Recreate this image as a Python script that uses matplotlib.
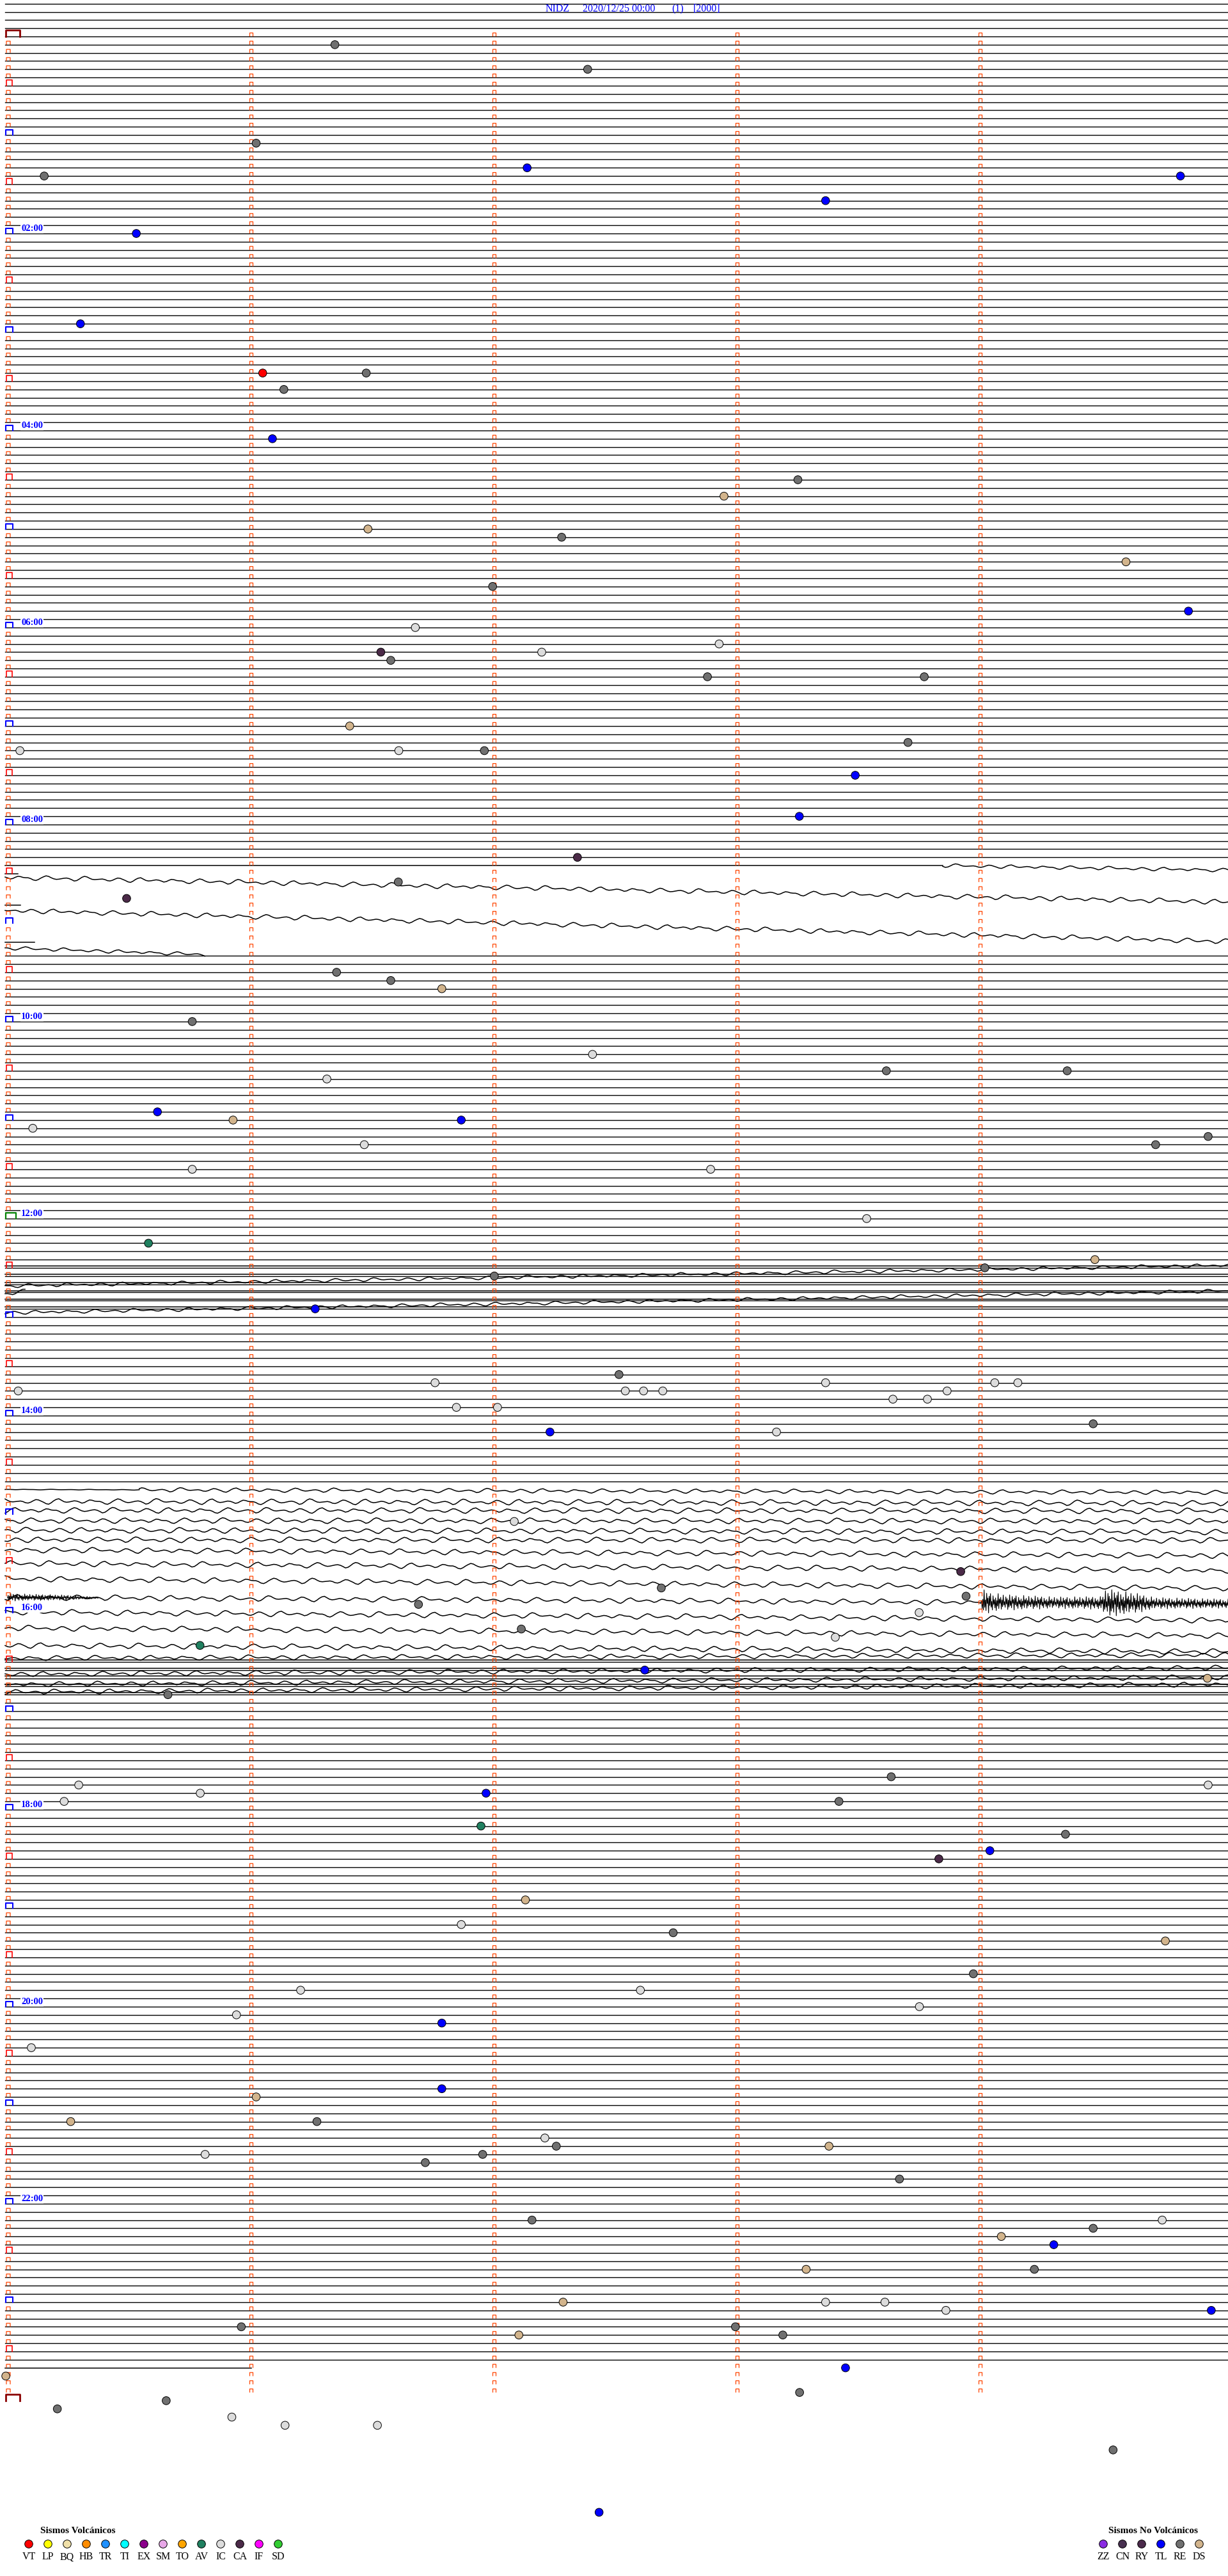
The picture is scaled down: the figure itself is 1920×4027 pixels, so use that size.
import matplotlib
matplotlib.use('Agg')
import matplotlib.pyplot as plt
import numpy as np

plt.rcParams['font.family'] = ['Liberation Serif', 'DejaVu Serif']

# drum geometry, in pixels of the 1920 x 4027 sheet
W, H = 1920, 4027
X_LEFT, PX_MIN = 12.5, 380.0     # minute 0 of every row, pixels per minute
Y_TOP, PX_LINE = 57, 12.833      # y of the 00:00 line, pixels per 5-minute line
N_LINES = 288                    # 24 h of 5-minute lines


def px_to_min(p):
    return (p - X_LEFT) / PX_MIN


def px_to_line(p):
    return (p - Y_TOP) / PX_LINE


START, END = px_to_min(8), px_to_min(1920)   # drawn extent of a row

# ---------------- header / labels ----------------
title_parts = ['NIDZ', '2020/12/25 00:00', '(1)', '[2000]']
hour_labels = ['02:00', '04:00', '06:00', '08:00', '10:00', '12:00',
               '14:00', '16:00', '18:00', '20:00', '22:00']
hour_values = [2, 4, 6, 8, 10, 12, 14, 16, 18, 20, 22]

# ---------------- legend ----------------
volc_codes = ['VT', 'LP', 'BQ', 'HB', 'TR', 'TI', 'EX', 'SM', 'TO', 'AV', 'IC', 'CA', 'IF', 'SD']
volc_colors = ['#FF0000', '#FFFF00', '#F0E0A8', '#FF8C00', '#1E90FF', '#00FFFF', '#8B008B',
               '#E8A8E8', '#FFA500', '#208060', '#DCDCDC', '#4B2A48', '#FF00FF', '#32CD32']
novolc_codes = ['ZZ', 'CN', 'RY', 'TL', 'RE', 'DS']
novolc_colors = ['#8A2BE2', '#483050', '#4B2A4B', '#0000FF', '#707070', '#D2B48C']

# ---------------- events: row index (5-min line), minute in row, class ----------------
ev_line = [1, 4, 17, 13, 16, 17, 20, 24, 35, 41,
           41, 43, 49, 54, 56, 60, 61, 64, 67, 70,
           72, 74, 75, 75, 76, 78, 78, 84, 86, 87,
           87, 87, 90, 95, 100, 103, 105, 114, 115, 116,
           120, 124, 126, 126, 127, 131, 132, 132, 133, 135,
           135, 134, 138, 138, 144, 147, 149, 150, 151, 155,
           163, 164, 165, 165, 165, 164, 166, 166, 165, 164,
           164, 165, 167, 167, 170, 170, 169, 180.9, 191, 194,
           196, 202, 187, 189, 190, 192, 195, 199, 200, 213,
           212, 213, 214, 214, 215, 215, 218, 219, 221, 222,
           227, 230, 231, 232, 236, 238, 238, 240, 241, 242,
           245, 250, 251, 254, 254, 256, 257, 257, 258, 258,
           259, 261, 266, 266, 267, 268, 269, 272, 272, 276,
           276, 276, 277, 277, 279, 280, 279, 280, 284, 285,
           287, 288, 289, 290, 291, 291, 294, 301.6]
ev_min = [1.345, 2.385, 0.149, 1.021, 2.136, 4.824, 3.364, 0.528, 0.298, 1.048,
          1.474, 1.135, 1.088, 3.250, 2.946, 1.481, 2.278, 4.600, 1.994, 4.857,
          1.676, 2.926, 2.196, 1.534, 1.575, 2.878, 3.770, 1.406, 3.703, 0.049,
          1.608, 1.960, 3.486, 3.256, 2.343, 1.606, 0.488, 1.352, 1.575, 1.785,
          0.758, 2.405, 3.614, 4.358, 1.312, 0.615, 0.926, 1.865, 0.102, 1.466,
          4.722, 4.938, 0.758, 2.891, 3.533, 0.578, 4.472, 4.019, 2.001, 1.264,
          2.514, 1.757, 2.540, 2.615, 2.694, 3.364, 3.641, 3.783, 3.864, 4.060,
          4.155, 0.042, 1.845, 2.014, 3.162, 2.230, 4.465, 2.083, 1.689, 2.112,
          0.790, 0.658, 3.920, 2.688, 3.942, 3.749, 3.404, 2.620, 4.935, 0.291,
          3.634, 4.938, 0.791, 1.967, 0.231, 3.419, 1.946, 4.351, 4.040, 3.830,
          2.129, 1.865, 2.737, 4.762, 3.972, 1.204, 2.602, 3.750, 0.940, 1.785,
          0.096, 1.785, 1.021, 0.258, 1.271, 2.209, 2.256, 3.378, 0.811, 1.953,
          1.717, 3.668, 2.156, 4.749, 4.465, 4.087, 4.303, 3.284, 4.223, 2.284,
          3.364, 3.608, 3.859, 4.951, 0.960, 2.102, 2.993, 3.188, 3.446, -0.009,
          3.257, 0.651, 0.203, 0.921, 1.140, 1.520, 4.547, 2.432]
ev_type = ['RE', 'RE', 'RE', 'RE', 'TL', 'TL', 'TL', 'TL', 'TL', 'VT',
           'RE', 'RE', 'TL', 'RE', 'DS', 'DS', 'RE', 'DS', 'RE', 'TL',
           'IC', 'IC', 'IC', 'CA', 'RE', 'RE', 'RE', 'DS', 'RE', 'IC',
           'IC', 'RE', 'TL', 'TL', 'CA', 'RE', 'CA', 'RE', 'RE', 'DS',
           'RE', 'IC', 'RE', 'RE', 'IC', 'TL', 'DS', 'TL', 'IC', 'IC',
           'RE', 'RE', 'IC', 'IC', 'IC', 'AV', 'DS', 'RE', 'RE', 'TL',
           'RE', 'IC', 'IC', 'IC', 'IC', 'IC', 'IC', 'IC', 'IC', 'IC',
           'IC', 'IC', 'IC', 'IC', 'IC', 'TL', 'RE', 'IC', 'RE', 'RE',
           'AV', 'RE', 'CA', 'RE', 'RE', 'IC', 'IC', 'TL', 'DS', 'IC',
           'RE', 'IC', 'IC', 'TL', 'IC', 'RE', 'AV', 'RE', 'TL', 'CA',
           'DS', 'IC', 'RE', 'DS', 'RE', 'IC', 'IC', 'IC', 'IC', 'TL',
           'IC', 'TL', 'DS', 'DS', 'RE', 'IC', 'RE', 'DS', 'IC', 'RE',
           'RE', 'RE', 'RE', 'IC', 'RE', 'DS', 'TL', 'DS', 'RE', 'DS',
           'IC', 'IC', 'IC', 'TL', 'RE', 'DS', 'RE', 'RE', 'TL', 'DS',
           'RE', 'RE', 'RE', 'IC', 'IC', 'IC', 'RE', 'TL']

# ---------------- traces ----------------
# rows with no flat baseline (drawn as drifting / wavy traces instead)
missing_lines = list(range(101, 112)) + list(range(177, 198)) + [284]

# drifting / wavy traces: minute start, minute end, row position at start/end, wiggle amplitude (px)
S, E = START, END
wave_x0 = [S, 3.846, S, S, S, S, S, S,
           S, S, S, S, S, S, S, S, S,
           S, 0.54, S, S, S, S, S, S, S, S, S, S, S, S, S,
           S, S, S, S, S, S, S, S,
           S]
wave_x1 = [3.846, E, 0.04, E, 0.05, E, 0.11, 0.81,
           E, E, E, E, E, E, E, 0.07, E,
           0.54, E, E, E, E, E, E, E, E, E, 4.003, E, E, E, E,
           E, E, E, E, E, E, E, E,
           1.0]
wave_y0 = [101.00, 101.00, 102.00, 102.43, 105.82, 106.44, 110.32, 111.02,
           149.79, 150.79, 151.79, 152.79, 153.79, 154.79, 152.19, 153.20, 155.46,
           177.00, 177.04, 178.44, 179.53, 180.78, 181.95, 183.12, 184.36, 186.00,
           187.87, 190.13, 191.92, 193.87, 195.98, 197.54,
           197.75, 198.75, 199.75, 200.75, 201.75, 199.49, 200.73, 201.67,
           284.00]
wave_y1 = [101.00, 101.55, 102.00, 105.43, 105.82, 110.24, 110.32, 111.82,
           149.79, 150.79, 151.79, 152.79, 153.79, 154.79, 149.69, 152.80, 152.81,
           177.04, 177.35, 178.67, 179.61, 180.86, 182.18, 183.20, 185.06, 186.86,
           189.04, 190.75, 192.94, 194.80, 196.76, 197.15,
           197.75, 198.75, 199.75, 200.75, 201.75, 198.71, 199.87, 200.73,
           284.00]
wave_amp = [0, 3, 0, 4, 0, 4, 0, 3,
            0, 0, 0, 0, 0, 0, 3, 3, 3,
            0.5, 3.5, 4.5, 4.5, 4.5, 4.5, 4.5, 4.5, 4.5, 4.5, 4.5, 4.5, 4.5, 4.5, 4,
            0, 0, 0, 0, 0, 4, 4, 4,
            0]

# microseism wiggle shape (one sample every 4 px)
WAVE = [0, .3, .8, 1, .6, 0, -.5, -.9, -.7, -.2, .2, .4, .3, .1, -.1, -.2, 0, .4, .9, .7,
        .1, -.6, -1, -.8, -.3, .1, .2, .1, 0, -.1, .1, .5, .6, .3, -.2, -.6, -.5, -.1, .3, .8,
        1, .5, -.2, -.7, -.9, -.4, .1, .3, .2, 0, -.2, -.1, .2, .6, .4, -.1, -.5, -.4, -.1, 0]
# high-frequency tremor shape (one sample per px)
NOISE = [.2, -.5, .9, -.3, .6, -1, .4, -.2, .7, -.8, .1, -.4, 1, -.6, .3, -.9, .5, -.1, .8, -.7,
         .2, -.3, .6, -.5, .9, -.2, .4, -1, .7, -.4, .1, -.6, .8, -.3, .5, -.9, .3, -.1, .6, -.7]

# tremor bursts: row position, envelope knots (minute, half-amplitude px)
burst_y = [(190.75, 190.91), (190.13, 190.20)]
burst_env_min = [[4.003, 4.013, 4.044, 4.114, 4.315, 4.496, 4.517, 4.637, 4.718, 5.02],
                 [-0.002, 0.089, 0.24, 0.37]]
burst_env_amp = [[1, 20, 15, 12, 9, 10, 22, 16, 9, 7],
                 [6, 5, 4, 1]]

# ---------------- figure ----------------
fig = plt.figure(figsize=(W / 100, H / 100), dpi=100)
ax = fig.add_axes([0, 0, 1, 1])
ax.set_xlim(px_to_min(0), px_to_min(W))
ax.set_ylim(px_to_line(H), px_to_line(0))
ax.axis('off')

# flat baselines
bx, by = [], []
for i in range(-4, 285):
    if i in missing_lines:
        continue
    bx += [START, END, np.nan]
    by += [i, i, np.nan]
ax.plot(bx, by, color='black', lw=1.0, zorder=2)

# wavy traces
for r in range(len(wave_x0)):
    n = int((wave_x1[r] - wave_x0[r]) * PX_MIN / 4) + 2
    t = np.linspace(0, 1, n)
    x = wave_x0[r] + (wave_x1[r] - wave_x0[r]) * t
    base = wave_y0[r] + (wave_y1[r] - wave_y0[r]) * t
    idx = (np.arange(n) + 17 * r) % len(WAVE)
    y = base + wave_amp[r] / PX_LINE * np.array(WAVE)[idx]
    ax.plot(x, y, color='black', lw=1.1, zorder=2)

for b in range(len(burst_y)):
    m0, m1 = burst_env_min[b][0], burst_env_min[b][-1]
    n = int((m1 - m0) * PX_MIN) + 2
    x = np.linspace(m0, m1, n)
    base = np.linspace(burst_y[b][0], burst_y[b][1], n)
    env = np.interp(x, burst_env_min[b], burst_env_amp[b])
    y = base + env / PX_LINE * np.array(NOISE)[np.arange(n) % len(NOISE)]
    ax.plot(x, y, color='black', lw=0.8, zorder=2)


# minute marks: open boxes sitting on each row
def add_box(store, left_px, width_px, line, height_px, lift_px):
    x0 = px_to_min(left_px)
    x1 = px_to_min(left_px + width_px)
    yb = line - lift_px / PX_LINE
    yt = line - (lift_px + height_px) / PX_LINE
    store[0].extend([x0, x0, x1, x1, np.nan])
    store[1].extend([yb, yt, yt, yb, np.nan])


small, blue, red, green, dred = ([], []), ([], []), ([], []), ([], []), ([], [])
for i in range(N_LINES):
    for k in range(1, 5):
        add_box(small, X_LEFT + k * PX_MIN - 2, 5, i, 5, 0.5)
    if i == 0:
        add_box(dred, 9, 22, i, 10, 0)
    elif i == 144:
        add_box(green, 9, 16, i, 9, 0)
    elif i % 12 == 0:
        add_box(blue, 9, 11, i, 8, 0)
    elif i % 6 == 0:
        add_box(red, 10, 9, i, 9, 0)
    else:
        add_box(small, 10, 6, i, 5, 0.5)
add_box(dred, 9, 22, N_LINES, 10, 0)

ax.plot(*small, color='#FF4500', lw=0.9, zorder=3)
ax.plot(*red, color='#FF0000', lw=1.2, zorder=3)
ax.plot(*blue, color='#0000FF', lw=1.5, zorder=3)
ax.plot(*green, color='#008000', lw=1.6, zorder=3)
ax.plot(*dred, color='#8B0000', lw=2.0, zorder=3)

# hour labels
for lab, hr in zip(hour_labels, hour_values):
    ax.text(px_to_min(33), hr * 12 - 0.08, lab, ha='left', va='bottom', fontsize=10.5,
            fontweight='bold', color='#0000FF', zorder=6,
            bbox=dict(facecolor='white', edgecolor='none', pad=0.6))

# title
for part, left in zip(title_parts, [853, 911, 1050, 1084]):
    ax.text(px_to_min(left), px_to_line(18), part, ha='left', va='baseline',
            fontsize=11.5, color='#0000FF', zorder=6)

# events
colors = dict(zip(volc_codes + novolc_codes, volc_colors + novolc_colors))
ax.scatter(ev_min, ev_line, s=82, c=[colors[t] for t in ev_type],
           edgecolors='black', linewidths=0.7, zorder=5)

# legends
ax.text(px_to_min(63), px_to_line(3957), 'Sismos Volcánicos', ha='left', va='center',
        fontsize=11, fontweight='bold')
ax.text(px_to_min(1733), px_to_line(3957), 'Sismos No Volcánicos', ha='left', va='center',
        fontsize=11, fontweight='bold')
for codes, cols, x_start in [(volc_codes, volc_colors, 45), (novolc_codes, novolc_colors, 1725)]:
    lx = [px_to_min(x_start + 30 * j) for j in range(len(codes))]
    ax.scatter(lx, [px_to_line(3977)] * len(codes), s=82, c=cols,
               edgecolors='black', linewidths=0.7, zorder=5)
    for x, code in zip(lx, codes):
        ax.text(x, px_to_line(3997), code, ha='center', va='center', fontsize=11.5)

fig.savefig('out.png', dpi=100)
plt.close(fig)
